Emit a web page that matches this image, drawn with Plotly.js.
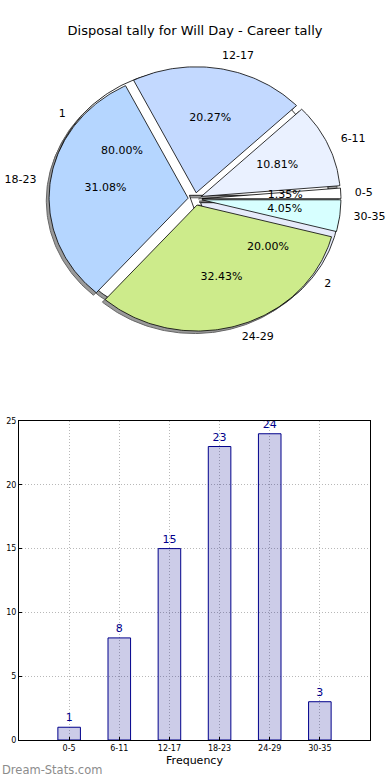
<!DOCTYPE html>
<html>
<head>
<meta charset="utf-8">
<script src="https://cdn.plot.ly/plotly-3.0.1.min.js"></script>
<style>html,body{margin:0;padding:0;background:#fff;}#chart{width:390px;height:780px;}</style>
</head>
<body>
<div id="chart"></div>
<script>
// ---- data ----
const categories = ["0-5", "6-11", "12-17", "18-23", "24-29", "30-35"];
const counts = [1, 8, 15, 23, 24, 3];
const pieColors = ["#ffffff", "#eaf1ff", "#c3d9ff", "#b5d6ff", "#cdeb8b", "#d7ffff"];
const overlayLabels = ["1", "2"];
const overlayValues = [4, 1];
const overlayColors = ["#ffffff", "#e6ebfa"];
const chartTitle = "Disposal tally for Will Day - Career tally";
const xTitle = "Frequency";

// ---- pie geometry (pixel space of a hidden axis pair) ----
const CX = 195, CY = 199, RX = 139, RY = 126, EXP = 0.05;
const FONT = "DejaVu Sans, sans-serif";

function wedgeGeom(values) {
  const total = values.reduce((a, b) => a + b, 0);
  let start = 0;
  return values.map(v => {
    const span = v / total * 360;
    const a1 = start, a2 = start + span;
    start = a2;
    const mid = (a1 + a2) / 2 * Math.PI / 180;
    const ecx = CX + EXP * RX * Math.cos(mid);
    const ecy = CY - EXP * RY * Math.sin(mid);
    const xs = [ecx], ys = [ecy];
    const n = Math.max(2, Math.ceil(span));
    for (let i = 0; i <= n; i++) {
      const t = (a1 + span * i / n) * Math.PI / 180;
      xs.push(ecx + RX * Math.cos(t));
      ys.push(ecy - RY * Math.sin(t));
    }
    xs.push(ecx); ys.push(ecy);
    return {xs, ys, mid, ecx, ecy, pct: v / total * 100};
  });
}

const traces = [];
const g1 = wedgeGeom(counts);
const g2 = wedgeGeom(overlayValues);

function addShadows(g) {
  g.forEach(w => traces.push({
    type: "scatter", mode: "lines", xaxis: "x2", yaxis: "y2",
    x: w.xs.map(v => v - 2.8), y: w.ys.map(v => v + 2.5),
    fill: "toself", fillcolor: "#9a9a9a", line: {color: "#666", width: 1},
    hoverinfo: "skip", showlegend: false
  }));
}
function addWedges(g, colors) {
  g.forEach((w, i) => traces.push({
    type: "scatter", mode: "lines", xaxis: "x2", yaxis: "y2",
    x: w.xs, y: w.ys, fill: "toself", fillcolor: colors[i],
    line: {color: "#000", width: 0.8},
    hoverinfo: "skip", showlegend: false
  }));
}
addShadows(g2); addShadows(g1);
addWedges(g2, overlayColors);
addWedges(g1, pieColors);

function addTexts(g, labels) {
  // percentages at 0.6 radius, labels at 1.1 radius
  traces.push({
    type: "scatter", mode: "text", xaxis: "x2", yaxis: "y2",
    x: g.map(w => w.ecx + 0.6 * RX * Math.cos(w.mid)),
    y: g.map(w => w.ecy - 0.6 * RY * Math.sin(w.mid)),
    text: g.map(w => w.pct.toFixed(2) + "%"),
    textposition: "middle center",
    textfont: {family: FONT, size: 11, color: "#000"},
    hoverinfo: "skip", showlegend: false, cliponaxis: false
  });
  traces.push({
    type: "scatter", mode: "text", xaxis: "x2", yaxis: "y2",
    x: g.map(w => w.ecx + 1.1 * RX * Math.cos(w.mid)),
    y: g.map(w => w.ecy - 1.1 * RY * Math.sin(w.mid)),
    text: labels,
    textposition: g.map(w => Math.cos(w.mid) >= 0 ? "middle right" : "middle left"),
    textfont: {family: FONT, size: 11, color: "#000"},
    hoverinfo: "skip", showlegend: false, cliponaxis: false
  });
}
addTexts(g2, overlayLabels);
addTexts(g1, categories);

// ---- bar chart ----
traces.push({
  type: "bar", x: categories, y: counts, xaxis: "x", yaxis: "y",
  width: 0.45,
  marker: {color: "rgba(0,0,139,0.2)", line: {color: "#00008b", width: 1}},
  text: counts.map(String), textposition: "outside", cliponaxis: false,
  textfont: {family: FONT, size: 11, color: "#00008b"},
  hoverinfo: "skip", showlegend: false
});

const W = 390, H = 780;
const layout = {
  width: W, height: H,
  margin: {l: 0, r: 0, t: 0, b: 0},
  paper_bgcolor: "#fff", plot_bgcolor: "rgba(0,0,0,0)",
  showlegend: false,
  font: {family: FONT, color: "#000"},
  title: {text: chartTitle, x: 0.5, xanchor: "center", y: 1 - 30 / H, yanchor: "middle",
          font: {family: FONT, size: 13, color: "#000"}},
  xaxis2: {domain: [0, 1], range: [0, W], visible: false, fixedrange: true, anchor: "y2"},
  yaxis2: {domain: [0, 1], range: [H, 0], visible: false, fixedrange: true, anchor: "x2"},
  xaxis: {
    domain: [19 / W, 370 / W], anchor: "y", type: "category", range: [-1, 6],
    showline: true, mirror: true, linecolor: "#000", linewidth: 1,
    showgrid: true, gridcolor: "#b8b8b8", griddash: "1px,2px", gridwidth: 1,
    ticks: "inside", ticklen: 3, tickcolor: "#000",
    tickfont: {family: FONT, size: 8, color: "#000"},
    title: {text: xTitle, font: {family: FONT, size: 11, color: "#000"}, standoff: 4},
    automargin: false, zeroline: false
  },
  yaxis: {
    domain: [1 - 740 / H, 1 - 421 / H], anchor: "x", range: [0, 25], dtick: 5,
    showline: true, mirror: true, linecolor: "#000", linewidth: 1,
    showgrid: true, gridcolor: "#b8b8b8", griddash: "1px,2px", gridwidth: 1,
    ticks: "inside", ticklen: 3, tickcolor: "#000",
    tickfont: {family: FONT, size: 8, color: "#000"},
    automargin: false, zeroline: false
  },
  annotations: [{
    text: "Dream-Stats.com", xref: "paper", yref: "paper", x: 0, y: 1 - 770 / H,
    xanchor: "left", yanchor: "middle", showarrow: false,
    font: {family: FONT, size: 11.5, color: "#8c8c8c"}
  }]
};

Plotly.newPlot("chart", traces, layout, {staticPlot: true, displayModeBar: false});
</script>
</body>
</html>
